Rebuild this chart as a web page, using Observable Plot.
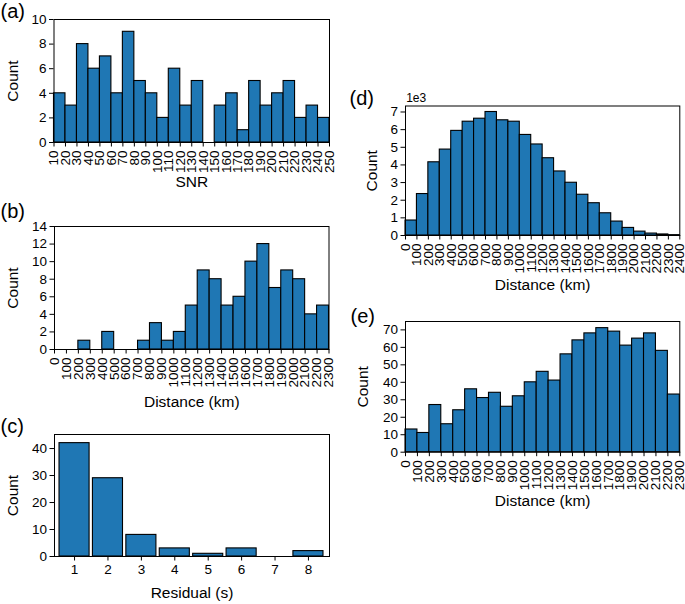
<!DOCTYPE html>
<html>
<head>
<meta charset="utf-8">
<script src="https://cdn.jsdelivr.net/npm/d3@7"></script>
<script src="https://cdn.jsdelivr.net/npm/@observablehq/plot@0.6"></script>
<style>
  body { margin: 0; background: #fff; }
  #fig { position: relative; width: 685px; height: 604px; background: #fff; overflow: hidden; }
  #fig svg { position: absolute; }
</style>
</head>
<body>
<div id="fig"></div>
<script>
// (a) SNR histogram
const snrEdges = [10,20,30,40,50,60,70,80,90,100,110,120,130,140,150,160,170,180,190,200,210,220,230,240,250];
const snrCounts = [4,3,8,6,7,4,9,5,4,2,6,3,5,0,3,4,1,5,3,4,5,2,3,2];

// (b) Distance histogram (selected)
const distEdgesB = [0,100,200,300,400,500,600,700,800,900,1000,1100,1200,1300,1400,1500,1600,1700,1800,1900,2000,2100,2200,2300];
const distCountsB = [0,0,1,0,2,0,0,1,3,1,2,5,9,8,5,6,10,12,7,9,8,4,5];

// (c) Residual histogram
const residualValues = [1,2,3,4,5,6,7,8];
const residualCounts = [42,29,8,3,1,3,0,2];

// (d) Distance histogram (all), counts
const distEdgesD = [0,100,200,300,400,500,600,700,800,900,1000,1100,1200,1300,1400,1500,1600,1700,1800,1900,2000,2100,2200,2300,2400];
const distCountsD = [850,2350,4150,4870,5930,6450,6620,7000,6530,6450,5700,5160,4380,3630,2990,2310,1830,1260,790,430,220,110,60,20];
const countTicksD = [0,1000,2000,3000,4000,5000,6000,7000];

// (e) Distance histogram
const distEdgesE = [0,100,200,300,400,500,600,700,800,900,1000,1100,1200,1300,1400,1500,1600,1700,1800,1900,2000,2100,2200,2300];
const distCountsE = [13,11,27,16,24,36,31,34,26,32,40,46,41,56,64,68,71,69,61,65,68,58,33];

const BLUE = "#1f77b4";
const FONT = "'Liberation Sans', Arial, Helvetica, sans-serif";
const fig = document.getElementById("fig");

function panel(o) {
  const marks = [
    o.bars,
    Plot.frame({stroke: "black", strokeWidth: 1}),
    Plot.axisX({ticks: o.xTicks, tickRotate: o.rot ?? 0, tickSize: 4.5, tickPadding: 3.5, label: null, tickFormat: d => String(d)}),
    Plot.axisY({ticks: o.yTicks, tickSize: 4.5, tickPadding: 3, label: null, tickFormat: o.yFmt ?? (d => String(d))}),
    Plot.text([o.xLabel], {text: d => d, frameAnchor: "bottom", lineAnchor: "middle", textAnchor: "middle", dy: o.xlDy, fontSize: 15.5}),
    Plot.text(["Count"], {text: d => d, frameAnchor: "left", lineAnchor: "middle", textAnchor: "middle", dx: o.ylDx, rotate: -90, fontSize: 15.5}),
    Plot.text([o.tag], {text: d => d, frameAnchor: "top-left", lineAnchor: "middle", textAnchor: "start", dx: o.tagDx, dy: o.tagDy, fontSize: 20})
  ];
  if (o.extra) marks.push(o.extra);
  const svg = Plot.plot({
    width: o.w, height: o.h,
    marginLeft: o.ml, marginRight: o.mr, marginTop: o.mt, marginBottom: o.mb,
    style: {background: "transparent", fontFamily: FONT, fontSize: "13.5px", color: "black", overflow: "visible"},
    x: {type: "linear", domain: o.xDomain},
    y: {type: "linear", domain: o.yDomain},
    marks
  });
  svg.style.left = o.left + "px";
  svg.style.top = o.top + "px";
  fig.appendChild(svg);
}

function histBars(edges, counts) {
  const data = counts.map((c, i) => ({x1: edges[i], x2: edges[i + 1], y: c}));
  return Plot.rectY(data, {x1: "x1", x2: "x2", y1: 0, y2: "y", fill: BLUE, stroke: "black", strokeWidth: 1.1, inset: 0});
}

// (a)
panel({
  left: 0, top: 0, w: 340, h: 200, ml: 53.5, mr: 11, mt: 19, mb: 58,
  xDomain: [10, 250], yDomain: [0, 10],
  xTicks: snrEdges, yTicks: [0,2,4,6,8,10], rot: -90,
  bars: histBars(snrEdges, snrCounts),
  xLabel: "SNR", xlDy: 40, ylDx: -40.5,
  tag: "(a)", tagDx: -53.5, tagDy: -8
});

// (b)
panel({
  left: 0, top: 200, w: 340, h: 215, ml: 54, mr: 11.5, mt: 26, mb: 66,
  xDomain: [0, 2300], yDomain: [0, 14],
  xTicks: distEdgesB, yTicks: [0,2,4,6,8,10,12,14], rot: -90,
  bars: histBars(distEdgesB, distCountsB),
  xLabel: "Distance (km)", xlDy: 53, ylDx: -41,
  tag: "(b)", tagDx: -54, tagDy: -15
});

// (c)
const residualData = residualValues.map((v, i) => ({x: v, y: residualCounts[i]}));
panel({
  left: 0, top: 415, w: 340, h: 189, ml: 54, mr: 11, mt: 19, mb: 48,
  xDomain: [0.4, 8.63], yDomain: [0, 45.2],
  xTicks: residualValues, yTicks: [0,10,20,30,40], rot: 0,
  bars: Plot.rectY(residualData, {x1: d => d.x - 0.45, x2: d => d.x + 0.45, y1: 0, y2: "y", fill: BLUE, stroke: "black", strokeWidth: 1.1, inset: 0}),
  xLabel: "Residual (s)", xlDy: 37, ylDx: -41,
  tag: "(c)", tagDx: -54, tagDy: -7.5
});

// (d)
panel({
  left: 340, top: 80, w: 345, h: 220, ml: 65, mr: 5.7, mt: 25.5, mb: 65,
  xDomain: [0, 2400], yDomain: [0, 7340],
  xTicks: distEdgesD, yTicks: countTicksD, rot: -90, yFmt: d => String(d / 1000),
  bars: histBars(distEdgesD, distCountsD),
  xLabel: "Distance (km)", xlDy: 49.5, ylDx: -33,
  tag: "(d)", tagDx: -56, tagDy: -7,
  extra: Plot.text(["1e3"], {text: d => d, frameAnchor: "top-left", lineAnchor: "middle", textAnchor: "start", dx: 0.7, dy: -7.5, fontSize: 12})
});

// (e)
panel({
  left: 340, top: 300, w: 345, h: 220, ml: 65, mr: 5.7, mt: 21, mb: 68.3,
  xDomain: [0, 2300], yDomain: [0, 74.8],
  xTicks: distEdgesE, yTicks: [0,10,20,30,40,50,60,70], rot: -90,
  bars: histBars(distEdgesE, distCountsE),
  xLabel: "Distance (km)", xlDy: 48.5, ylDx: -42,
  tag: "(e)", tagDx: -55, tagDy: -4.5
});
</script>
</body>
</html>
